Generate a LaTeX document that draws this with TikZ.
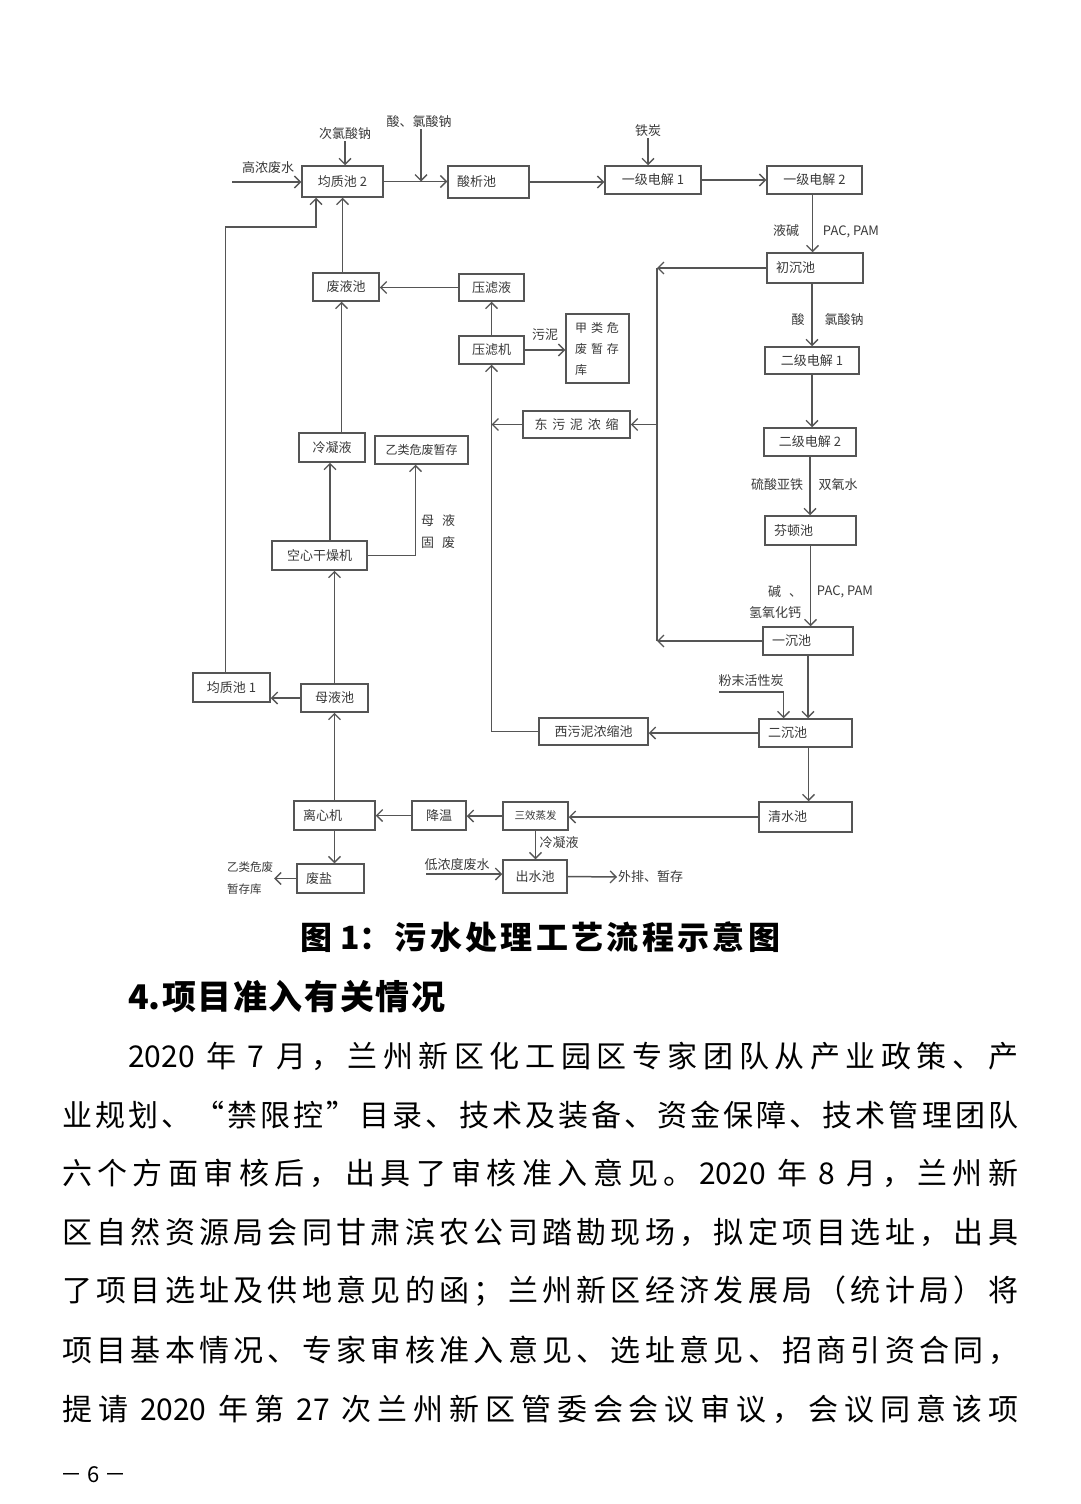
\documentclass[tikz,border=0pt]{standalone}
\usepackage{fontspec}
\setmainfont{Noto Sans CJK SC}
\usetikzlibrary{arrows.meta}
\definecolor{lgray}{HTML}{555555}
\definecolor{tx}{HTML}{3A3A3A}
\def\spr#1{#1\sprx}
\def\sprx#1{\ifx\relax#1\else\hfill#1\expandafter\sprx\fi}
\tikzset{
 box/.style={draw=lgray, line width=1.5pt, fill=white, inner xsep=9pt, inner ysep=0pt, text=tx, font=\fontsize{13pt}{15pt}\selectfont},
 lbl/.style={inner sep=1pt, text=tx, font=\fontsize{13pt}{15pt}\selectfont},
 arr/.style={draw=lgray, line width=1.5pt, -{Straight Barb[length=6pt,width=12pt,line width=1.3pt]}},
 wire/.style={draw=lgray, line width=1.5pt},
 body/.style={anchor=west, inner sep=0pt, font=\fontsize{30pt}{36pt}\selectfont},
}
\begin{document}
\begin{tikzpicture}[x=1pt,y=-1pt]
\fill[white] (0,0) rectangle (1080,1504);
\useasboundingbox (0,0) rectangle (1080,1504);

% ---------- boxes ----------
\node[box,minimum width=81pt,minimum height=31pt] (jz2) at (342.5,181.5) {均质池 2};
\node[box,minimum width=81pt,minimum height=32pt,text width=63pt,align=left] (sx) at (488.5,182) {酸析池};
\node[box,minimum width=96pt,minimum height=28pt] (yj1) at (653,180) {一级电解 1};
\node[box,minimum width=95pt,minimum height=28pt] (yj2) at (814.5,180) {一级电解 2};
\node[box,minimum width=96pt,minimum height=30pt,text width=78pt,align=left] (cc) at (815,268) {初沉池};
\node[box,minimum width=94pt,minimum height=27pt] (ej1) at (812,360.5) {二级电解 1};
\node[box,minimum width=92pt,minimum height=28pt] (ej2) at (810,442) {二级电解 2};
\node[box,minimum width=91pt,minimum height=29pt,text width=73pt,align=left] (fd) at (810.5,530.5) {芬顿池};
\node[box,minimum width=90pt,minimum height=28pt,text width=72pt,align=left] (yc) at (808,641) {一沉池};
\node[box,minimum width=93pt,minimum height=28pt,text width=75pt,align=left] (ec) at (805.5,733) {二沉池};
\node[box,minimum width=93pt,minimum height=30pt,text width=75pt,align=left] (qs) at (805.5,817) {清水池};
\node[box,minimum width=65pt,minimum height=28pt,font=\fontsize{10.5pt}{12pt}\selectfont] (sxzf) at (535.5,816) {三效蒸发};
\node[box,minimum width=64pt,minimum height=33pt] (cs) at (535,876.5) {出水池};
\node[box,minimum width=54pt,minimum height=29pt] (jw) at (439,815.5) {降温};
\node[box,minimum width=81pt,minimum height=29pt,text width=63pt,align=left] (lxj) at (334.5,815.5) {离心机};
\node[box,minimum width=67pt,minimum height=29pt,text width=49pt,align=left] (fy) at (330.5,878.5) {废盐};
\node[box,minimum width=67pt,minimum height=28pt] (myc) at (334.5,698) {母液池};
\node[box,minimum width=77pt,minimum height=29pt] (jz1) at (231.5,687.5) {均质池 1};
\node[box,minimum width=95pt,minimum height=29pt] (kx) at (319.5,555.5) {空心干燥机};
\node[box,minimum width=66pt,minimum height=29pt] (lnj) at (332,447.5) {冷凝液};
\node[box,minimum width=93pt,minimum height=28pt,font=\fontsize{12pt}{14pt}\selectfont] (yl) at (421.5,450) {乙类危废暂存};
\node[box,minimum width=66pt,minimum height=28pt] (fyc) at (346,287) {废液池};
\node[box,minimum width=65pt,minimum height=27pt] (ylj) at (491.5,287.5) {压滤液};
\node[box,minimum width=65pt,minimum height=28pt] (ylji) at (491.5,350) {压滤机};
\node[box,minimum width=63pt,minimum height=69pt,text width=45pt,align=left,font=\fontsize{12pt}{21pt}\selectfont] (jl) at (597.5,348.5) {甲 类 危\\废 暂 存\\库};
\node[box,minimum width=107pt,minimum height=27pt] (dw) at (576.5,424.5) {\hbox to 84pt{\spr 东污泥浓缩\relax}};
\node[box,minimum width=109pt,minimum height=27pt] (xw) at (593.5,731.5) {西污泥浓缩池};

% ---------- labels ----------
\node[lbl] (gn) at (268,168) {高浓废水};
\node[lbl] (cl) at (345,134) {次氯酸钠};
\node[lbl] (sl) at (419,122) {酸、氯酸钠};
\node[lbl] (tt) at (648,131) {铁炭};
\node[lbl] (yj) at (786,231) {液碱};
\node[lbl] (pp1) at (851,232) {PAC, PAM};
\node[lbl] (s1) at (798,320) {酸};
\node[lbl] (lsn) at (844,320) {氯酸钠};
\node[lbl] (ly) at (777,485) {硫酸亚铁};
\node[lbl] (sy) at (838,485) {双氧水};
\node[lbl] (jian) at (785,592) {碱\hspace{8pt}、};
\node[lbl] (pp2) at (845,592) {PAC, PAM};
\node[lbl] (qy) at (775,613) {氢氧化钙};
\node[lbl] (pm) at (751,681) {粉末活性炭};
\node[lbl] (wn) at (545,335) {污泥};
\node[lbl,align=left,font=\fontsize{13pt}{22pt}\selectfont] (myg) at (438,532) {母\hspace{8pt}液\\固\hspace{8pt}废};
\node[lbl,align=left,font=\fontsize{11.5pt}{22pt}\selectfont] (ylk) at (250,878) {乙类危废\\暂存库};
\node[lbl] (ld) at (457,865) {低浓度废水};
\node[lbl] (lnl) at (559,843) {冷凝液};
\node[lbl,anchor=west] (wp) at (617,877) {外排、暂存};

% ---------- connectors ----------
\coordinate (gin) at (232,182);
\draw[arr] (gin) -- (gin -| jz2.west);
\draw[arr] (cl.south) -- (cl.south |- jz2.north);
\draw[arr] (jz2.east) -- (jz2.east -| sx.west);
\draw[arr] ([xshift=2pt]sl.south) -- ([xshift=2pt]sl.south |- jz2.east);
\draw[arr] (sx.east) -- (sx.east -| yj1.west);
\draw[arr] (tt.south) -- (tt.south |- yj1.north);
\draw[arr] (yj1.east) -- (yj1.east -| yj2.west);
\draw[arr] ([xshift=-2pt]yj2.south) -- ([xshift=-2pt]yj2.south |- cc.north);
\draw[arr] ([xshift=-3pt]cc.south) -- ([xshift=-3pt]cc.south |- ej1.north);
\draw[arr] (ej1.south) -- (ej1.south |- ej2.north);
\draw[arr] (ej2.south) -- (ej2.south |- fd.north);
\draw[arr] (fd.south) -- (fd.south |- yc.north);
\draw[arr] (yc.south) -- (yc.south |- ec.north);
\coordinate (pin) at (719,692);
\draw[arr] (pin) -| ([xshift=-22pt]ec.north);
\draw[arr] ([xshift=3pt]ec.south) -- ([xshift=3pt]ec.south |- qs.north);
\draw[arr] (qs.west) -- (qs.west -| sxzf.east);
\draw[arr] (sxzf.west) -- (sxzf.west -| jw.east);
\draw[arr] (jw.west) -- (jw.west -| lxj.east);
\draw[arr] (sxzf.south) -- (sxzf.south |- cs.north);
\coordinate (lin) at (426,874);
\draw[arr] (lin) -- (lin -| cs.west);
\draw[arr] (cs.east) -- (wp.west);
\draw[arr] (lxj.south) -- (lxj.south |- fy.north);
\draw[arr] (fy.west) -- (ylk.east |- fy.west);
\draw[arr] (lxj.north) -- (lxj.north |- myc.south);
\draw[arr] (myc.west) -- (myc.west -| jz1.east);
\draw[arr] (myc.north) -- (myc.north |- kx.south);
\draw[arr] ([xshift=-2pt]lnj.south |- kx.north) -- ([xshift=-2pt]lnj.south);
\draw[arr] (kx.east) -| ([xshift=-6pt]yl.south);
\draw[arr] ([xshift=-1pt]jz2.south |- lnj.north) -- ([xshift=-1pt]jz2.south |- fyc.south);
\draw[arr] (jz2.south |- fyc.north) -- (jz2.south);
\coordinate (k1) at (316,227);
\draw[arr] ([xshift=-6pt]jz1.north) |- (k1) -- (k1 |- jz2.south);
\draw[arr] (ylj.west) -- (ylj.west -| fyc.east);
\draw[arr] (ylji.north) -- (ylji.south |- ylj.south);
\draw[arr] (ylji.east) -- (ylji.east -| jl.west);
% collector line
\coordinate (col) at (657,268);
\coordinate (colb) at (657,641);
\draw[wire] (col) -- (colb);
\draw[arr] (cc.west) -- (col);
\draw[arr] (yc.west) -- (colb);
\draw[arr] (col |- dw.east) -- (dw.east);
\draw[arr] (dw.west) -- (dw.west -| ylji.south);
\draw[arr] (ec.west) -- (ec.west -| xw.east);
\draw[arr] (xw.west) -| (ylji.south);

% ---------- caption and body text ----------
\node[inner sep=0pt,font=\fontsize{32pt}{36pt}\selectfont\bfseries] (cap) at (540,937) {\hbox to 480pt{\spr {图\hspace{8pt}1：}污水处理工艺流程示意图\relax}};
\node[body,font=\fontsize{34pt}{36pt}\selectfont\bfseries] (hd) at (128,997) {\hbox to 317pt{\spr {4.}项目准入有关情况\relax}};
\node[body] (b1) at (128,1056) {\hbox to 890pt{\spr {2020\hspace{6pt}}年{\hspace{6pt}7\hspace{6pt}}月，兰州新区化工园区专家团队从产业政策、产\relax}};
\node[body] (b2) at (62,1115) {\hbox to 956pt{\spr 业规划、“禁限控”目录、技术及装备、资金保障、技术管理团队\relax}};
\node[body] (b3) at (62,1173) {\hbox to 956pt{\spr 六个方面审核后，出具了审核准入意见。{2020\hspace{6pt}}年{\hspace{6pt}8\hspace{6pt}}月，兰州新\relax}};
\node[body] (b4) at (62,1232) {\hbox to 956pt{\spr 区自然资源局会同甘肃滨农公司踏勘现场，拟定项目选址，出具\relax}};
\node[body] (b5) at (62,1291) {\hbox to 956pt{\spr 了项目选址及供地意见的函；兰州新区经济发展局（统计局）将\relax}};
\node[body] (b6) at (62,1350) {\hbox to 956pt{\spr 项目基本情况、专家审核准入意见、选址意见、招商引资合同，\relax}};
\node[body] (b7) at (62,1409) {\hbox to 956pt{\spr 提请{\hspace{6pt}2020\hspace{6pt}}年第{\hspace{6pt}27\hspace{6pt}}次兰州新区管委会会议审议，会议同意该项\relax}};
\node[body,font=\fontsize{22pt}{26pt}\selectfont] (pg) at (60,1475) {－ 6 －};
\end{tikzpicture}
\end{document}
